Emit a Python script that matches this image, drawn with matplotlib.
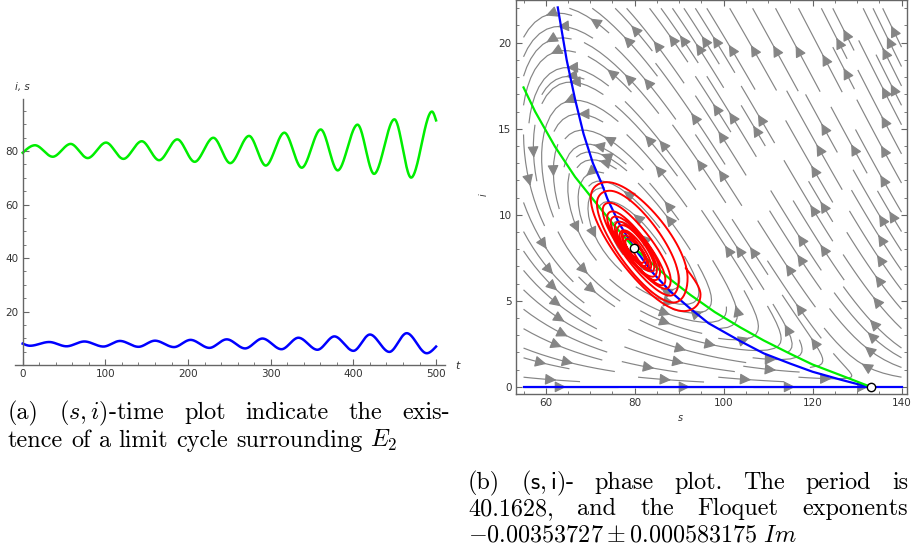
import numpy as np
import matplotlib
matplotlib.use("Agg")
import matplotlib.pyplot as plt
from matplotlib.ticker import MultipleLocator

# ---------------- data ----------------
# (a) time series: extrema (t, value) of s(t) (green) and i(t) (blue)
s_t = [0, 14.9, 36.3, 58, 78.6, 100.8, 121.8, 144, 165, 187, 208, 230.6, 251,
       273.8, 294, 316.5, 337.5, 360.5, 381, 405, 425, 449.6, 469.8, 495, 500]
s_v = [79.4, 82.2, 77.9, 82.7, 77.4, 83.2, 77.1, 83.7, 76.6, 84.4, 76.0, 85.0, 75.5,
       85.7, 74.6, 86.9, 73.8, 88.1, 72.8, 89.9, 71.5, 91.9, 70.1, 94.8, 91.5]
i_t = [0, 8.9, 32, 53, 74.6, 97.6, 117.7, 140, 160, 183, 203, 225.8, 246.8,
       269, 290, 313, 333.5, 356.5, 377, 400, 420, 443.5, 464.5, 488.7, 500]
i_v = [8.0, 7.2, 8.6, 7.0, 8.8, 6.9, 9.0, 6.8, 9.1, 6.7, 9.4, 6.4, 9.6,
       6.2, 9.9, 5.9, 10.2, 5.7, 10.7, 5.3, 11.4, 4.9, 11.9, 4.4, 6.9]

# (b) nullclines
blue_s = [62.7, 64.7, 66.6, 68.5, 70.6, 72.6, 73.9, 76.5, 79.9, 84.0, 88.0, 92.5,
          96.6, 103.8, 109.0, 115.0, 120.0, 126.3, 130.0, 133.1]
blue_i = [22.05, 19.0, 16.7, 14.7, 13.0, 11.8, 10.9, 9.5, 8.07, 6.65, 5.55, 4.55,
          3.7, 2.65, 1.95, 1.35, 0.88, 0.42, 0.17, 0.0]
green_s = [55.0, 57.6, 62.1, 66.6, 70.0, 75.0, 79.9, 88.0, 92.5, 98.0, 103.8,
           109.0, 115.0, 120.0, 126.3, 133.1]
green_i = [17.4, 16.0, 13.95, 12.2, 11.1, 9.5, 8.07, 6.25, 5.35, 4.35, 3.45,
           2.7, 1.92, 1.3, 0.68, 0.0]
axis_s = [55, 140]
axis_i = [0, 0]
equilibria_s = [79.9, 133.1]
equilibria_i = [8.07, 0.0]

# model parameters for the direction field of the stream plot
LAM, MU, BETA, D, A, B = 133.3, 1.0, 0.04977, 6.617, 0.127, 0.0674

caption_a = [["(a)", r"$(s, i)$-time", "plot", "indicate", "the", "exis-"],
             ["tence", "of", "a", "limit", "cycle", "surrounding", r"$E_2$"]]
caption_b = [["(b)", r"$(\mathsf{s},\mathsf{i})$-", "phase", "plot.", "The", "period", "is"],
             ["40.1628,", "and", "the", "Floquet", "exponents"],
             [r"$-0.00353727 \pm 0.000583175\ Im$"]]


def smooth(tk, yk, n=40):
    """cubic Hermite curve through the read points, flat at interior extrema"""
    tk = np.asarray(tk, float); yk = np.asarray(yk, float)
    m = np.zeros_like(yk)
    m[0] = 1.5 * (yk[1] - yk[0]) / (tk[1] - tk[0])
    m[-1] = 1.5 * (yk[-1] - yk[-2]) / (tk[-1] - tk[-2])
    ts, ys = [], []
    for k in range(len(tk) - 1):
        h = tk[k + 1] - tk[k]
        u = np.linspace(0, 1, n, endpoint=False)
        h00 = 2 * u**3 - 3 * u**2 + 1; h10 = u**3 - 2 * u**2 + u
        h01 = -2 * u**3 + 3 * u**2; h11 = u**3 - u**2
        ts.append(tk[k] + h * u)
        ys.append(h00 * yk[k] + h10 * h * m[k] + h01 * yk[k + 1] + h11 * h * m[k + 1])
    ts.append([tk[-1]]); ys.append([yk[-1]])
    return np.concatenate(ts), np.concatenate(ys)


plt.rcParams['mathtext.fontset'] = 'cm'
W, Hh = 912, 545
fig = plt.figure(figsize=(W / 100, Hh / 100), dpi=100)

GREEN, BLUE, RED = '#00ee00', '#0000ff', '#ff0000'
AX = '#666666'
TXT = '#333333'

# ---------------- (a) time plot ----------------
ax1 = fig.add_axes([15 / W, 1 - 365 / Hh, 430 / W, 266 / Hh])
ts, ss = smooth(s_t, s_v)
ti, ii = smooth(i_t, i_v)
ax1.plot(ts, ss, color=GREEN, lw=1.8)
ax1.plot(ti, ii, color=BLUE, lw=1.8)
ax1.set_xlim(-9.3, 510.8)
ax1.set_ylim(0, 99.5)
for side in ['top', 'right']:
    ax1.spines[side].set_visible(False)
ax1.spines['left'].set_position(('data', 0))
for side in ['left', 'bottom']:
    ax1.spines[side].set_color(AX)
    ax1.spines[side].set_linewidth(1.0)
ax1.xaxis.set_major_locator(MultipleLocator(100))
ax1.xaxis.set_minor_locator(MultipleLocator(20))
ax1.set_yticks([20, 40, 60, 80])
ax1.yaxis.set_minor_locator(MultipleLocator(5))
ax1.tick_params(which='both', direction='in', color=AX, labelsize=7.5,
                labelcolor=TXT, pad=3)
ax1.tick_params(which='major', length=4, width=0.8)
ax1.tick_params(which='minor', length=2.5, width=0.6)
fig.text(15 / W, 1 - 87 / Hh, "i, s", fontsize=7.5, color=TXT, ha='left',
         va='center', style='italic')
fig.text(457 / W, 1 - 366 / Hh, "t", fontsize=8, color=TXT, style='italic',
         ha='center', va='center')

# ---------------- (b) phase plot ----------------
ax2 = fig.add_axes([515.7 / W, 1 - 394.3 / Hh, 391.6 / W, 394.3 / Hh])
sg = np.linspace(55, 140, 120)
ig = np.linspace(0, 22, 120)
S, I = np.meshgrid(sg, ig)
Hf = 1 + A * I / (1 + B * I)
U = LAM - MU * S - BETA * S * I * Hf
V = BETA * S * I * Hf - D * I
ax2.streamplot(S, I, U, V, density=(1.15, 1.35), color='#858585', linewidth=0.85,
               arrowsize=1.7, arrowstyle='-|>', maxlength=0.5, zorder=1)
ax2.plot(axis_s, axis_i, color=BLUE, lw=1.6, zorder=3)
ax2.plot(blue_s, blue_i, color=BLUE, lw=1.6, zorder=3)
ax2.plot(green_s, green_i, color=GREEN, lw=1.6, zorder=3)
# trajectory in the phase plane from the same time series
tt = np.linspace(0, 500, 4000)
ax2.plot(np.interp(tt, ts, ss), np.interp(tt, ti, ii), color=RED, lw=1.4, zorder=4)
ax2.plot(equilibria_s, equilibria_i, 'o', ms=6, mfc='white', mec='black',
         mew=1.0, zorder=5)
ax2.set_xlim(53.24, 141.3)
ax2.set_ylim(-0.43, 22.48)
for side in ax2.spines.values():
    side.set_color(AX)
    side.set_linewidth(1.0)
ax2.xaxis.set_major_locator(MultipleLocator(20))
ax2.xaxis.set_minor_locator(MultipleLocator(5))
ax2.yaxis.set_major_locator(MultipleLocator(5))
ax2.yaxis.set_minor_locator(MultipleLocator(1))
ax2.tick_params(which='both', direction='in', top=True, right=True, color=AX,
                labelsize=7.5, labelcolor=TXT, pad=3)
ax2.tick_params(which='major', length=4, width=0.8)
ax2.tick_params(which='minor', length=2.5, width=0.6)
fig.text(484 / W, 1 - 195 / Hh, "i", fontsize=7, color=TXT, style='italic',
         rotation=90, ha='center', va='center')
fig.text(680 / W, 1 - 418 / Hh, "s", fontsize=7, color=TXT, style='italic',
         ha='center', va='center')

# ---------------- captions (justified lines) ----------------
renderer = fig.canvas.get_renderer()
CAP_FS = 17.4


def caption_line(words, x0, x1, ybase, justify):
    texts, widths = [], []
    for w in words:
        t = fig.text(0, 0, w, fontsize=CAP_FS, family='cmr10', ha='left',
                     va='baseline', color='black')
        widths.append(t.get_window_extent(renderer).width)
        texts.append(t)
    space = 0.33 * CAP_FS * 100 / 72
    if justify and len(words) > 1:
        space = (x1 - x0 - sum(widths)) / (len(words) - 1)
    x = x0
    for t, w in zip(texts, widths):
        t.set_position((x / W, 1 - ybase / Hh))
        x += w + space


caption_line(caption_a[0], 8, 450, 419, True)
caption_line(caption_a[1], 8, 450, 447, False)
caption_line(caption_b[0], 468, 908, 489, True)
caption_line(caption_b[1], 468, 908, 515, True)
caption_line(caption_b[2], 468, 908, 541, False)

fig.savefig("out.png", dpi=100)
